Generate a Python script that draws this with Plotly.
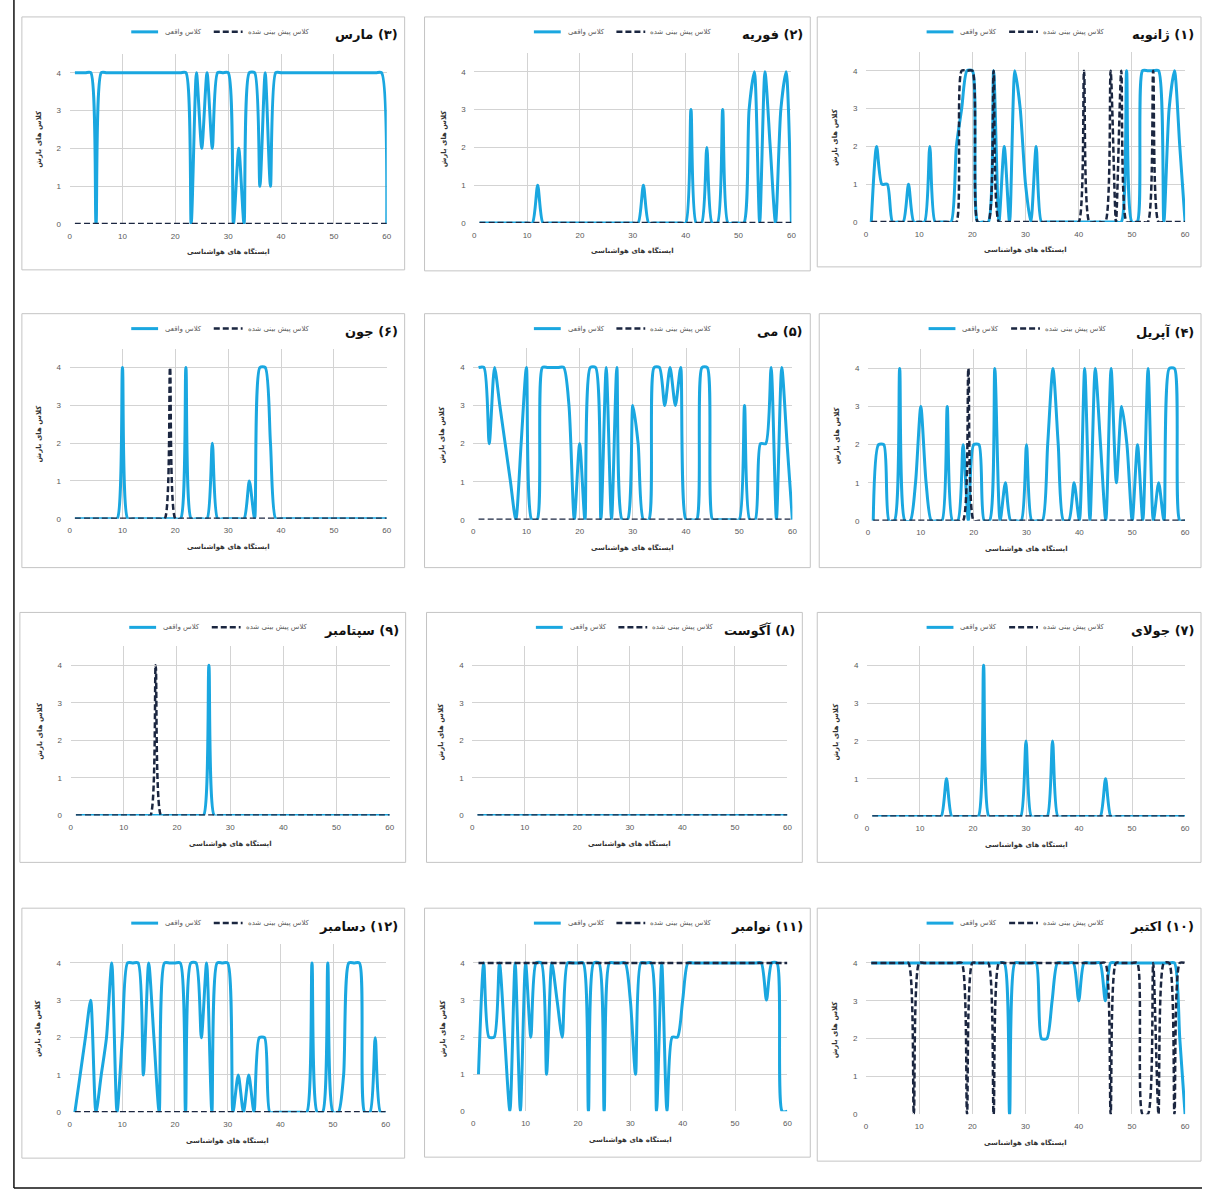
import plotly.graph_objects as go

W, H = 1207, 1196
stations = list(range(1, 61))

# ---------------- data (class values per station 1..60) ----------------
jan_actual = [0,2,1,1,0,0,0,1,0,0, 0,2,0,0,0,0,2,3,4,4, 0,0,0,4,0,2,0,4,3,1,
              0,2,0,0,0,0,0,0,0,0, 0,0,0,0,0,0,0,0,4,0, 0,4,4,4,4,0,3,4,2,0]
jan_pred   = [0,0,0,0,0,0,0,0,0,0, 0,0,0,0,0,0,0,4,4,4, 0,0,0,4,0,0,0,0,0,0,
              0,0,0,0,0,0,0,0,0,0, 4,0,0,0,0,4,0,4,0,0, 0,0,0,4,0,0,0,0,0,0]
feb_actual = [0,0,0,0,0,0,0,0,0,0, 0,1,0,0,0,0,0,0,0,0, 0,0,0,0,0,0,0,0,0,0,
              0,1,0,0,0,0,0,0,0,0, 3,0,0,2,0,0,3,0,0,0, 0,3,4,0,4,2,0,3,4,0]
feb_pred   = [0]*60
mar_actual = [4,4,4,4,0,4,4,4,4,4, 4,4,4,4,4,4,4,4,4,4, 4,4,0,4,2,4,2,4,4,4,
              0,2,0,4,4,1,4,1,4,4, 4,4,4,4,4,4,4,4,4,4, 4,4,4,4,4,4,4,4,4,0]
mar_pred   = [0]*60
apr_actual = [0,2,2,0,0,4,0,0,1,3, 1,0,0,0,3,0,0,2,0,2, 2,0,0,4,0,1,0,0,0,2,
              0,0,0,2,4,2,0,0,1,0, 4,0,4,2,0,4,1,3,2,0, 2,0,4,0,1,0,4,4,0,0]
apr_pred   = [0,0,0,0,0,0,0,0,0,0, 0,0,0,0,0,0,0,0,4,0, 0,0,0,0,0,0,0,0,0,0,
              0,0,0,0,0,0,0,0,0,0, 0,0,0,0,0,0,0,0,0,0, 0,0,0,0,0,0,0,0,0,0]
may_actual = [4,4,2,4,3,2,1,0,2,4, 0,0,4,4,4,4,4,3,0,2, 0,4,4,0,4,0,4,0,0,3,
              2,0,0,4,4,3,4,3,4,0, 0,0,4,4,0,0,0,0,0,0, 3,0,0,2,2,4,0,4,2,0]
may_pred   = [0]*60
jun_actual = [0,0,0,0,0,0,0,0,0,4, 0,0,0,0,0,0,0,0,0,0, 0,4,0,0,0,0,2,0,0,0,
              0,0,0,1,0,4,4,2,0,0, 0,0,0,0,0,0,0,0,0,0, 0,0,0,0,0,0,0,0,0,0]
jun_pred   = [0,0,0,0,0,0,0,0,0,0, 0,0,0,0,0,0,0,0,4,0, 0,0,0,0,0,0,0,0,0,0,
              0,0,0,0,0,0,0,0,0,0, 0,0,0,0,0,0,0,0,0,0, 0,0,0,0,0,0,0,0,0,0]
jul_actual = [0,0,0,0,0,0,0,0,0,0, 0,0,0,0,1,0,0,0,0,0, 0,4,0,0,0,0,0,0,0,2,
              0,0,0,0,2,0,0,0,0,0, 0,0,0,0,1,0,0,0,0,0, 0,0,0,0,0,0,0,0,0,0]
jul_pred   = [0]*60
aug_actual = [0]*60
aug_pred   = [0]*60
sep_actual = [0,0,0,0,0,0,0,0,0,0, 0,0,0,0,0,0,0,0,0,0, 0,0,0,0,0,4,0,0,0,0,
              0,0,0,0,0,0,0,0,0,0, 0,0,0,0,0,0,0,0,0,0, 0,0,0,0,0,0,0,0,0,0]
sep_pred   = [0,0,0,0,0,0,0,0,0,0, 0,0,0,0,0,4,0,0,0,0, 0,0,0,0,0,0,0,0,0,0,
              0,0,0,0,0,0,0,0,0,0, 0,0,0,0,0,0,0,0,0,0, 0,0,0,0,0,0,0,0,0,0]
oct_actual = [4,4,4,4,4,4,4,4,4,4, 4,4,4,4,4,4,4,4,4,4, 4,4,4,4,4,4,0,4,4,4,
              4,4,2,2,3,4,4,4,4,3, 4,4,4,4,3,4,4,4,4,4, 4,4,4,4,4,4,4,4,2,0]
oct_pred   = [4,4,4,4,4,4,4,4,0,4, 4,4,4,4,4,4,4,4,0,4, 4,4,4,0,4,4,4,4,4,4,
              4,4,4,4,4,4,4,4,4,4, 4,4,4,4,4,0,4,4,4,4, 4,0,0,4,0,4,4,0,4,4]
nov_actual = [1,4,2,2,4,2,0,4,0,4, 2,4,4,1,4,3,2,4,4,4, 4,0,4,4,0,4,4,4,4,3,
              1,4,4,4,0,4,0,2,2,3, 4,4,4,4,4,4,4,4,4,4, 4,4,4,4,4,3,4,4,0,0]
nov_pred   = [4]*60
dec_actual = [0,1,2,3,0,1,2,4,0,2, 4,4,4,1,4,2,0,4,4,4, 4,0,4,4,2,4,0,4,4,4,
              0,1,0,1,0,2,2,0,0,0, 0,0,0,0,0,4,0,0,4,0, 0,1,4,4,4,0,0,2,0,0]
dec_pred   = [0]*60

yticks = [0, 1, 2, 3, 4]
xticks = [0, 10, 20, 30, 40, 50, 60]
legend_actual = "کلاس واقعی"
legend_pred = "کلاس پیش بینی شده"
x_title = "ایستگاه های هواشناسی"
y_title = "کلاس های بارش"
RLM = "\u200f"

# title, actual, pred, frame (l,t,r,b) px, axis px (x at 0, x at 60, y at 0, y at 4)
panels = [
    ("(۳) مارس", mar_actual, mar_pred, (20, 17, 405, 271), (68, 387, 225, 73)),
    ("(۲) فوریه", feb_actual, feb_pred, (425, 17, 813, 272), (475, 794, 224, 72)),
    ("(۱) ژانویه", jan_actual, jan_pred, (820, 17, 1206, 268), (869, 1190, 223, 71)),
    ("(۶) جون", jun_actual, jun_pred, (20, 315, 405, 570), (68, 387, 521, 369)),
    ("(۵) می", may_actual, may_pred, (425, 315, 813, 570), (474, 795, 522, 369)),
    ("(۴) آپریل", apr_actual, apr_pred, (822, 315, 1206, 570), (871, 1190, 523, 370)),
    ("(۹) سپتامبر", sep_actual, sep_pred, (18, 615, 406, 866), (69, 390, 819, 668)),
    ("(۸) آگوست", aug_actual, aug_pred, (427, 615, 805, 866), (473, 790, 819, 668)),
    ("(۷) جولای", jul_actual, jul_pred, (820, 615, 1206, 866), (870, 1190, 820, 668)),
    ("(۱۲) دسامبر", dec_actual, dec_pred, (20, 912, 405, 1163), (68, 386, 1117, 967)),
    ("(۱۱) نوامبر", nov_actual, nov_pred, (425, 912, 813, 1162), (474, 790, 1116, 967)),
    ("(۱۰) اکتبر", oct_actual, oct_pred, (820, 912, 1206, 1166), (869, 1190, 1119, 967)),
]

BLUE = "#1aa7e0"
NAVY = "#1b2640"
GRID = "#d3d3d3"
TXT = "#595959"
FA = "DejaVu Sans"

fig = go.Figure()
shapes = []
annotations = []

def px(x):
    return x / W

def py(y):
    return 1 - y / H

# outer black frame lines
shapes.append(dict(type="line", xref="paper", yref="paper", x0=px(12), x1=px(12),
                   y0=py(0), y1=py(1193), line=dict(color="#111111", width=1.5)))
shapes.append(dict(type="line", xref="paper", yref="paper", x0=px(12), x1=px(1207),
                   y0=py(1193), y1=py(1193), line=dict(color="#111111", width=1.5)))

for i, (title, act, pred, frame, ax) in enumerate(panels, start=1):
    assert len(act) == 60 and len(pred) == 60
    l, t, r, b = frame
    x0, x60, y0, y4 = ax
    unit = (y0 - y4) / 4
    ytop = y0 - 4.5 * unit
    sfx = "" if i == 1 else str(i)
    xa, ya = "x" + sfx, "y" + sfx

    # panel frame
    shapes.append(dict(type="rect", xref="paper", yref="paper", x0=px(l), x1=px(r),
                       y0=py(b), y1=py(t), line=dict(color="#c4c4c4", width=1),
                       fillcolor="white", layer="below"))

    fig.add_trace(go.Scatter(x=stations, y=act, xaxis=xa, yaxis=ya, mode="lines",
                             line=dict(color=BLUE, width=3, shape="spline", smoothing=0.7),
                             showlegend=False, hoverinfo="skip"))
    fig.add_trace(go.Scatter(x=stations, y=pred, xaxis=xa, yaxis=ya, mode="lines",
                             line=dict(color=NAVY, width=2.5, dash="6px,3px",
                                       shape="spline", smoothing=0.7),
                             showlegend=False, hoverinfo="skip"))

    fig.layout["xaxis" + sfx] = dict(
        domain=[px(x0), px(x60)], range=[0, 60], anchor=ya, tickvals=xticks,
        showgrid=True, gridcolor=GRID, gridwidth=1, zeroline=False, showline=False,
        ticks="outside", ticklen=4, tickcolor="rgba(0,0,0,0)",
        tickfont=dict(family="Liberation Sans", size=8, color=TXT), fixedrange=True)
    fig.layout["yaxis" + sfx] = dict(
        domain=[py(y0), py(ytop)], range=[0, 4.5], anchor=xa, tickvals=yticks,
        showgrid=True, gridcolor=GRID, gridwidth=1, zeroline=False, showline=False,
        ticks="outside", ticklen=6, tickcolor="rgba(0,0,0,0)",
        tickfont=dict(family="Liberation Sans", size=8, color=TXT), fixedrange=True)

    # title
    annotations.append(dict(xref="paper", yref="paper", x=px(r - 5), y=py(t + 18),
                            xanchor="right", yanchor="middle", showarrow=False,
                            text=RLM + title + RLM,
                            font=dict(family=FA, size=13, color="#111111", weight="bold")))
    # legend
    ly = t + 15
    shapes.append(dict(type="line", xref="paper", yref="paper", x0=px(l + 110), x1=px(l + 137),
                       y0=py(ly), y1=py(ly), line=dict(color=BLUE, width=3)))
    annotations.append(dict(xref="paper", yref="paper", x=px(l + 142), y=py(ly),
                            xanchor="left", yanchor="middle", showarrow=False,
                            text=legend_actual, font=dict(family=FA, size=7, color=TXT)))
    shapes.append(dict(type="line", xref="paper", yref="paper", x0=px(l + 193), x1=px(l + 222),
                       y0=py(ly), y1=py(ly), line=dict(color=NAVY, width=2.5, dash="6px,3px")))
    annotations.append(dict(xref="paper", yref="paper", x=px(l + 225), y=py(ly),
                            xanchor="left", yanchor="middle", showarrow=False,
                            text=legend_pred, font=dict(family=FA, size=7, color=TXT)))
    # axis titles
    annotations.append(dict(xref="paper", yref="paper", x=px((x0 + x60) / 2), y=py(y0 + 28),
                            xanchor="center", yanchor="middle", showarrow=False,
                            text=x_title, font=dict(family=FA, size=7, color="#333333", weight="bold")))
    annotations.append(dict(xref="paper", yref="paper", x=px(x0 - 31), y=py((y0 + ytop) / 2),
                            xanchor="center", yanchor="middle", showarrow=False, textangle=-90,
                            text=y_title, font=dict(family=FA, size=7, color="#333333", weight="bold")))

fig.update_layout(width=W, height=H, margin=dict(l=0, r=0, t=0, b=0),
                  paper_bgcolor="white", plot_bgcolor="rgba(0,0,0,0)",
                  shapes=shapes, annotations=annotations, showlegend=False)

fig.write_html("out.html", config={"displayModeBar": False})
